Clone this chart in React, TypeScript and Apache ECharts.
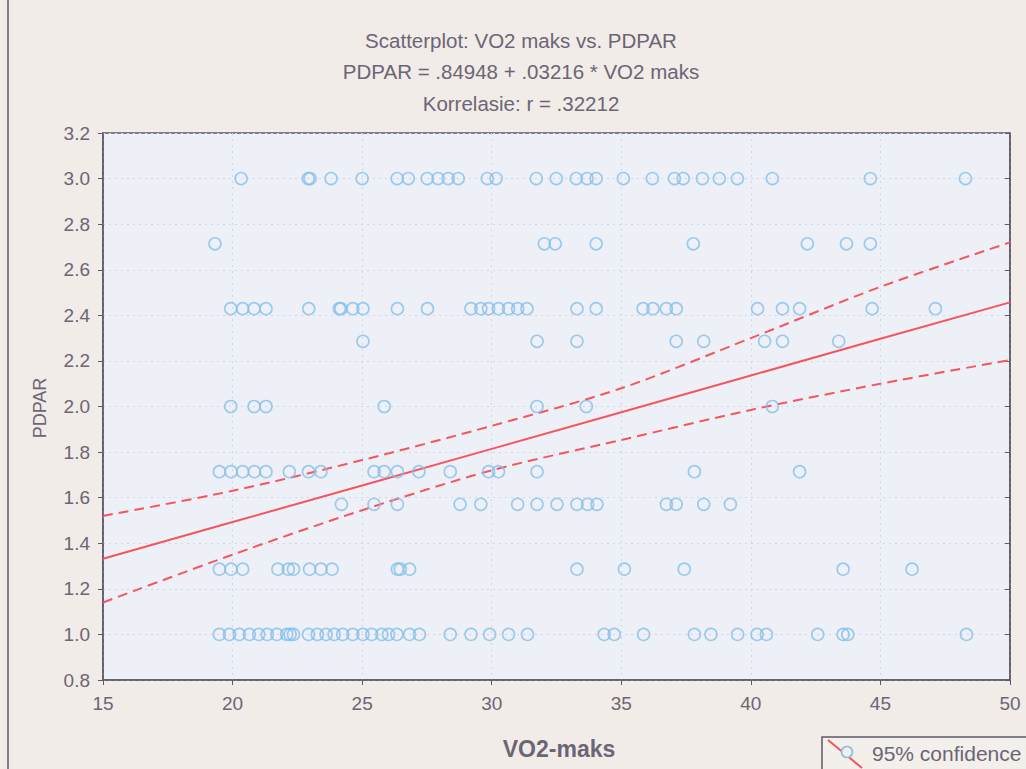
import React, { useEffect, useRef } from "react";
import * as echarts from "echarts";

// PDPAR levels (rows of points) and VO2-maks values read for each row
const yLevels = [3.0, 2.714, 2.429, 2.286, 2.0, 1.714, 1.571, 1.286, 1.0];

const row300 = [20.33, 22.92, 22.99, 23.8, 25.0, 26.35, 26.78, 27.51, 27.93, 28.32, 28.71, 29.83, 30.17, 31.72, 32.49, 33.26, 33.68, 34.03, 35.08, 36.2, 37.05, 37.39, 38.13, 38.78, 39.48, 40.83, 44.61, 48.28];
const row271 = [19.32, 32.03, 32.45, 34.03, 37.78, 42.18, 43.69, 44.61];
const row243 = [19.93, 20.39, 20.83, 21.29, 22.94, 24.12, 24.18, 24.64, 25.03, 26.36, 27.52, 29.2, 29.58, 29.88, 30.26, 30.65, 31.0, 31.36, 33.29, 34.03, 35.84, 36.22, 36.74, 37.12, 40.26, 41.22, 41.88, 44.68, 47.12];
const row229 = [25.03, 31.75, 33.29, 37.12, 38.18, 40.53, 41.22, 43.39];
const row200 = [19.93, 20.83, 21.29, 25.85, 31.75, 33.65, 40.83];
const row171 = [19.49, 19.94, 20.39, 20.84, 21.29, 22.19, 22.93, 23.41, 25.46, 25.85, 26.36, 27.19, 28.4, 29.88, 30.26, 31.75, 37.82, 41.88];
const row157 = [24.2, 25.46, 26.36, 28.78, 29.58, 31.0, 31.75, 32.52, 33.29, 33.7, 34.06, 36.74, 37.12, 38.18, 39.21];
const row129 = [19.49, 19.94, 20.39, 21.75, 22.15, 22.35, 22.97, 23.41, 23.84, 26.36, 26.47, 26.83, 33.29, 35.12, 37.43, 43.56, 46.22];
const row100 = [19.49, 19.88, 20.26, 20.65, 21.01, 21.34, 21.71, 22.09, 22.22, 22.35, 22.93, 23.27, 23.61, 23.92, 24.25, 24.64, 25.03, 25.37, 25.76, 26.02, 26.34, 26.83, 27.21, 28.4, 29.2, 29.92, 30.65, 31.38, 34.34, 34.73, 35.86, 37.82, 38.46, 39.49, 40.24, 40.6, 42.58, 43.56, 43.74, 48.32];

const rows = [row300, row271, row243, row229, row200, row171, row157, row129, row100];

// regression line and 95% confidence band
const bandX = [15, 20, 25, 30, 35, 40, 45, 50];
const fitY = [1.332, 1.493, 1.653, 1.814, 1.975, 2.136, 2.297, 2.457];
const upperY = [1.52, 1.63, 1.765, 1.915, 2.08, 2.3, 2.525, 2.72];
const lowerY = [1.14, 1.35, 1.545, 1.72, 1.853, 1.985, 2.1, 2.204];

const titleLines = [
  "Scatterplot: VO2 maks vs. PDPAR",
  "PDPAR = .84948 + .03216 * VO2 maks",
  "Korrelasie: r = .32212",
];

const FONT = "'Liberation Sans', Arial, sans-serif";
const TXT = "#6c6576";
const AXIS = "#5d5866";
const RED = "#f4555e";
const BLUE = "#86bfe9";
const GRIDC = "#d0d6e8";

export default function App() {
  const ref = useRef<HTMLDivElement>(null);
  useEffect(() => {
    document.body.style.margin = "0";
    const chart = echarts.init(ref.current!, null, { renderer: "svg" });
    const points: number[][] = [];
    rows.forEach((xs, i) => xs.forEach((x) => points.push([x, yLevels[i]])));
    const band = (ys: number[]) => bandX.map((x, i) => [x, ys[i]]);

    chart.setOption({
      animation: false,
      backgroundColor: "#f1ece7",
      grid: {
        left: 103,
        top: 133,
        right: 16,
        bottom: 89,
        show: true,
        backgroundColor: "#eef0f7",
        borderColor: AXIS,
        borderWidth: 1.5,
      },
      xAxis: {
        type: "value",
        min: 15,
        max: 50,
        interval: 5,
        axisLine: { show: true, lineStyle: { color: AXIS, width: 1.5 } },
        axisTick: { show: true, length: 5, lineStyle: { color: AXIS } },
        axisLabel: {
          color: TXT,
          fontSize: 19,
          fontFamily: FONT,
          margin: 14,
        },
        splitLine: { show: true, lineStyle: { color: GRIDC, type: [2, 4] } },
      },
      yAxis: [
        {
          type: "value",
          min: 0.8,
          max: 3.2,
          interval: 0.2,
          axisLine: { show: true, lineStyle: { color: AXIS, width: 1.5 } },
          axisTick: { show: true, length: 5, lineStyle: { color: AXIS } },
          axisLabel: {
            color: TXT,
            fontSize: 19,
            fontFamily: FONT,
            margin: 13,
            formatter: (v: number) => v.toFixed(1),
          },
          splitLine: { show: true, lineStyle: { color: GRIDC, type: [2, 4] } },
        },
        {
          type: "value",
          position: "right",
          min: 0.8,
          max: 3.2,
          interval: 0.2,
          axisLine: { show: true, lineStyle: { color: AXIS, width: 1.5 } },
          axisTick: { show: true, inside: true, length: 5, lineStyle: { color: AXIS } },
          axisLabel: { show: false },
          splitLine: { show: false },
        },
      ],
      series: [
        {
          type: "scatter",
          data: points,
          symbol: "circle",
          symbolSize: 12,
          itemStyle: { color: "rgba(0,0,0,0)", borderColor: BLUE, borderWidth: 1.6 },
          z: 3,
        },
        {
          type: "line",
          data: band(fitY),
          showSymbol: false,
          lineStyle: { color: RED, width: 2 },
          z: 2,
        },
        {
          type: "line",
          data: band(upperY),
          smooth: 0.3,
          showSymbol: false,
          lineStyle: { color: RED, width: 2, type: [10, 6] },
          z: 2,
        },
        {
          type: "line",
          data: band(lowerY),
          smooth: 0.3,
          showSymbol: false,
          lineStyle: { color: RED, width: 2, type: [10, 6] },
          z: 2,
        },
      ],
      graphic: [
        {
          type: "line",
          shape: { x1: 8, y1: 0, x2: 8, y2: 769 },
          style: { stroke: AXIS, lineWidth: 1.5 },
        },
        ...titleLines.map((t, i) => ({
          type: "text",
          x: 521,
          y: 40 + i * 31.5,
          style: {
            text: t,
            fill: TXT,
            font: `20.5px ${FONT}`,
            textAlign: "center",
            textVerticalAlign: "middle",
          },
        })),
        {
          type: "text",
          x: 40,
          y: 408,
          rotation: Math.PI / 2,
          style: {
            text: "PDPAR",
            fill: TXT,
            font: `18px ${FONT}`,
            textAlign: "center",
            textVerticalAlign: "middle",
          },
        },
        {
          type: "text",
          x: 559,
          y: 749,
          style: {
            text: "VO2-maks",
            fill: TXT,
            font: `bold 23px ${FONT}`,
            textAlign: "center",
            textVerticalAlign: "middle",
          },
        },
        {
          type: "rect",
          shape: { x: 822, y: 737, width: 230, height: 45 },
          style: { fill: "#f3efea", stroke: AXIS, lineWidth: 1.5 },
        },
        {
          type: "line",
          shape: { x1: 828, y1: 740, x2: 862, y2: 768 },
          style: { stroke: RED, lineWidth: 2 },
        },
        {
          type: "circle",
          shape: { cx: 847, cy: 752, r: 5.5 },
          style: { fill: "#f3efea", stroke: BLUE, lineWidth: 1.6 },
        },
        {
          type: "text",
          x: 872,
          y: 753,
          style: {
            text: "95% confidence",
            fill: TXT,
            font: `21px ${FONT}`,
            textAlign: "left",
            textVerticalAlign: "middle",
          },
        },
      ],
    });
    return () => chart.dispose();
  }, []);
  return <div ref={ref} style={{ width: 1026, height: 769 }} />;
}
